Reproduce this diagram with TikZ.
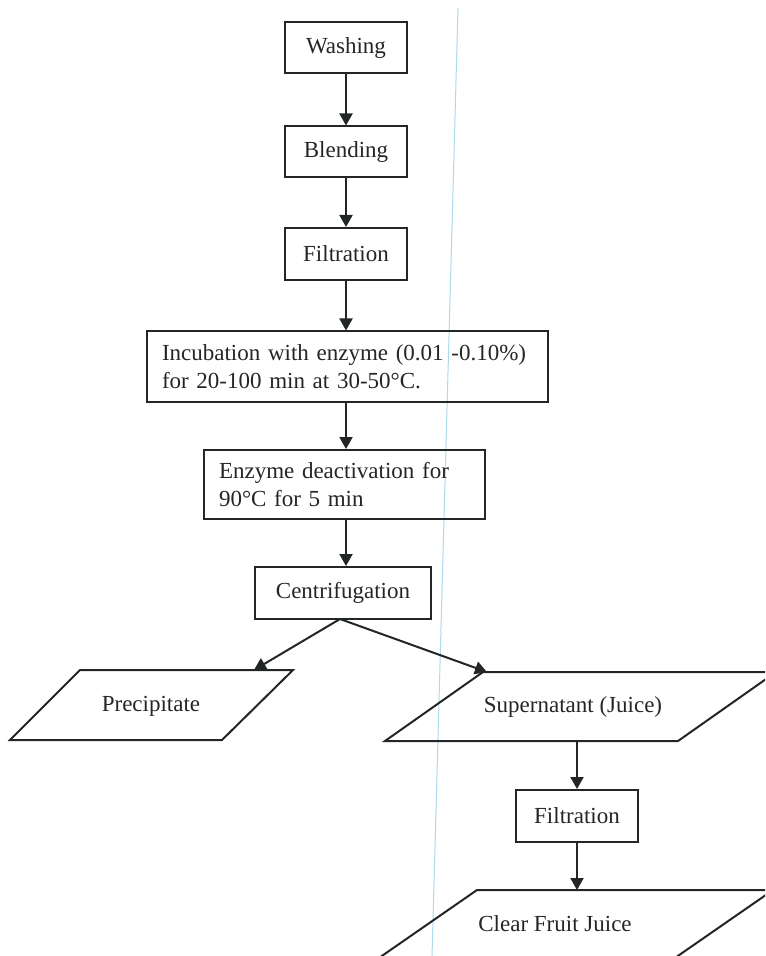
\documentclass[tikz,border=0pt]{standalone}
\usepackage{fontspec}
\setmainfont{Liberation Serif}
\usetikzlibrary{arrows.meta}
\definecolor{ink}{RGB}{35,38,38}
\definecolor{scanline}{RGB}{170,218,236}

\begin{document}
\begin{tikzpicture}[x=0.5pt, y=-0.5pt,
    every node/.style={font=\fontsize{11.5pt}{13.8pt}\selectfont, text=ink},
    stepbox/.style={draw=ink, line width=1pt, minimum height=25.5pt, inner sep=0pt},
    textbox/.style={draw=ink, line width=1pt, align=left, inner xsep=7.5pt, inner ysep=0pt},
    datashape/.style={draw=ink, line width=1pt, line join=miter},
    arr/.style={draw=ink, line width=1pt, -{Triangle[width=6.5pt,length=6pt]}}]

    % Page frame
    \useasboundingbox (0,0) rectangle (765,956);
    \clip (0,0) rectangle (765,956);

    % Faint scan line
    \draw[scanline, line width=0.5pt] (458,8) -- (432,956);

    % Main column of steps
    \node[stepbox, minimum width=61pt] (wash) at (346,48) {Washing};
    \node[stepbox, minimum width=61pt] (blend) at (346,152) {Blending};
    \node[stepbox, minimum width=61pt, minimum height=26pt] (filt) at (346,254) {Filtration};
    \node[textbox, text width=185.5pt, minimum height=35pt] (incub) at (347.5,366.5)
        {Incubation with enzyme (0.01 -0.10\%)\\for 20-100 min at 30-50°C.};
    \node[textbox, text width=125.5pt, minimum height=34.5pt] (deact) at (344.5,484.5)
        {Enzyme deactivation for\\90°C for 5 min};
    \node[stepbox, minimum width=88pt, minimum height=26pt] (centri) at (343,593) {Centrifugation};

    % Arrows down the column
    \draw[arr] (wash) -- (blend);
    \draw[arr] (blend) -- (filt);
    \draw[arr] (filt) -- (filt |- incub.north);
    \draw[arr] (filt |- incub.south) -- (filt |- deact.north);
    \draw[arr] (filt |- deact.south) -- (filt |- centri.north);

    % Precipitate
    \draw[datashape] (80,670) -- (293,670) -- (222,740) -- (10,740) -- cycle;
    \node (precip) at (151,706) {Precipitate};
    \coordinate (precip top) at (254,670);

    % Supernatant
    \draw[datashape] (483,672) -- (776,672) -- (678,741) -- (385,741) -- cycle;
    \node (super) at (573,707) {Supernatant (Juice)};
    \coordinate (super top) at (487,672);
    \coordinate (super bot) at (577,741);

    % Branches
    \coordinate (split) at (340,619);
    \draw[arr] (split) -- (precip top);
    \draw[arr] (split) -- (super top);

    % Second filtration
    \node[stepbox, minimum width=61pt, minimum height=26pt] (filt2) at (577,816) {Filtration};
    \draw[arr] (super bot) -- (filt2);

    % Clear juice
    \draw[datashape] (376,960) -- (477,890) -- (773,890) -- (672,960);
    \node (juice) at (555,924) {Clear Fruit Juice};
    \coordinate (juice top) at (577,890);
    \draw[arr] (filt2) -- (juice top);

\end{tikzpicture}
\end{document}
